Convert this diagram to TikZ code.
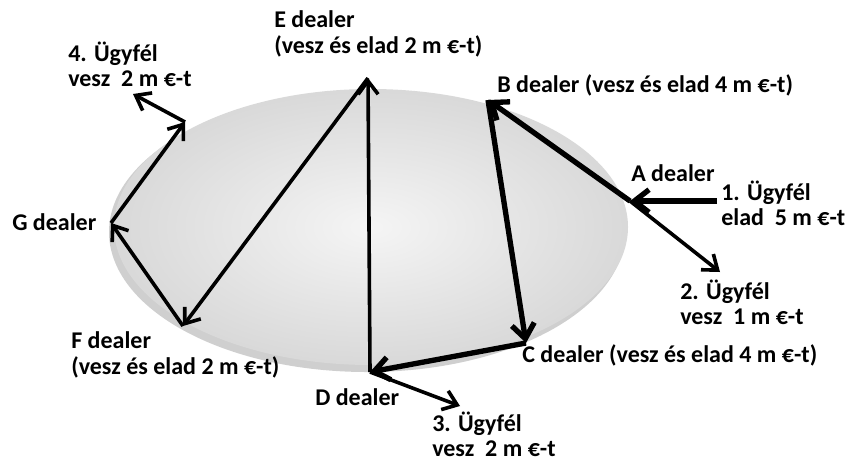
\documentclass[tikz,border=0pt]{standalone}
\usepackage{fontspec}
\setmainfont{Carlito}
\usetikzlibrary{arrows.meta}
\begin{document}
\begin{tikzpicture}[x=0.75pt,y=-0.75pt,
  lbl/.style={font=\bfseries\fontsize{18}{19}\selectfont, inner sep=0pt, anchor=west, align=left, text=black},
  arrthin/.style={line width=2.7pt, -{Straight Barb[length=10pt,width=15pt]}},
  arrthick/.style={line width=4pt, -{Straight Barb[length=11pt,width=17pt]}}]
\useasboundingbox (0,0) rectangle (848,461);
% disc with shadow
\fill[gray!38] (367,232) ellipse [x radius=258, y radius=140];
\shade[inner color=gray!8, outer color=gray!30] (371,227) ellipse [x radius=257, y radius=138];
% junction points
\coordinate (A) at (630,201);
\coordinate (B) at (488,100);
\coordinate (C) at (526,343);
\coordinate (D) at (370,372);
\coordinate (E) at (368,78);
\coordinate (F) at (183,326);
\coordinate (G) at (111,223);
\coordinate (H) at (185,122);
\coordinate (S1) at (717,201);
\coordinate (T2) at (720,272);
\coordinate (T3) at (460,406);
\coordinate (T4) at (133,94);
% flows
\draw[arrthick] (S1) -- (A);
\draw[arrthick] (A) -- (B);
\draw[arrthin] (A) -- (T2);
\draw[arrthick] (B) -- (C);
\draw[arrthick] (C) -- (D);
\draw[arrthin] (D) -- (T3);
\draw[arrthin] (D) -- (E);
\draw[arrthin] (E) -- (F);
\draw[arrthin] (F) -- (G);
\draw[arrthin] (G) -- (H);
\draw[arrthin] (H) -- (T4);
% labels
\node[lbl] (lE) at (274,34) {E dealer\\(vesz és elad 2 m €-t)};
\node[lbl] (l4) at (68,64) {4. Ügyfél\\vesz~~2 m €-t};
\node[lbl] (lB) at (497,85) {B dealer (vesz és elad 4 m €-t)};
\node[lbl] (lA) at (631,173) {A dealer};
\node[lbl] (l1) at (721,203) {1. Ügyfél\\elad~~5 m €-t};
\node[lbl] (lG) at (12,222) {G dealer};
\node[lbl] (l2) at (680,302) {2. Ügyfél\\vesz~~1 m €-t};
\node[lbl] (lF) at (71,355) {F dealer\\(vesz és elad 2 m €-t)};
\node[lbl] (lC) at (522,355) {C dealer (vesz és elad 4 m €-t)};
\node[lbl] (lD) at (315,397) {D dealer};
\node[lbl] (l3) at (432,434) {3. Ügyfél\\vesz~~2 m €-t};
\end{tikzpicture}
\end{document}
